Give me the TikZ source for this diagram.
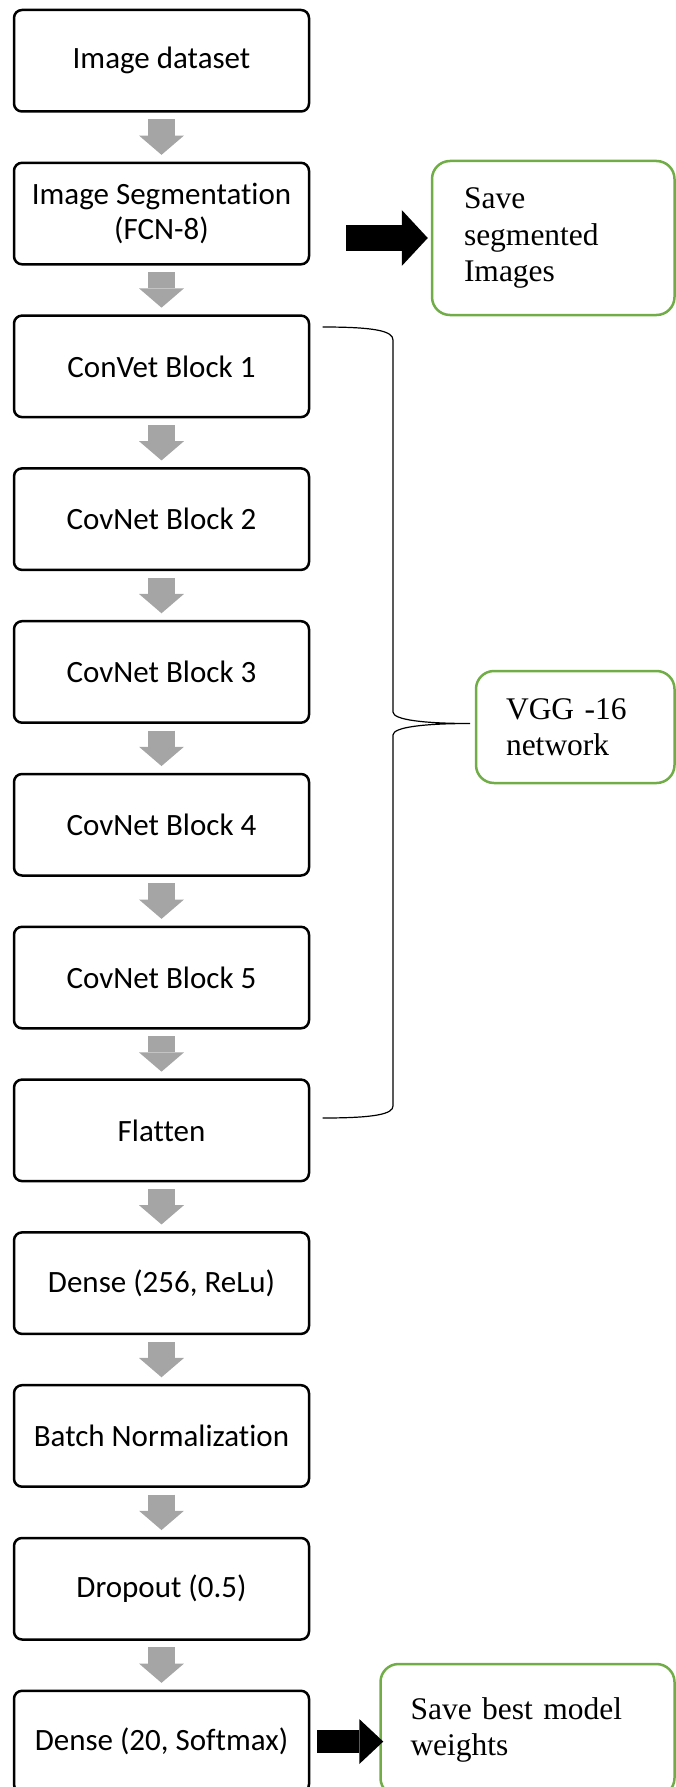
\documentclass[tikz,border=0pt]{standalone}
\usepackage{fontspec}
\setmainfont{Carlito}[Ligatures={CommonOff,ContextualOff,RequiredOff},Contextuals=AlternateOff]
\newfontfamily\notefont{Liberation Serif}
\usepackage{xcolor}
\usepackage{tikz}
\usetikzlibrary{arrows.meta,positioning}
\definecolor{notegreen}{HTML}{70AD47}
\definecolor{flowgray}{HTML}{A5A5A5}

\begin{document}
\begin{tikzpicture}[
    x=1pt, y=-1pt,
    % GLOBAL CFG
    font=\fontsize{31}{35}\selectfont,
    % Styles
    block/.style={% For the main steps
        rectangle,
        rounded corners=8pt,
        draw,
        line width=2.5pt,
        minimum width=295pt,
        minimum height=101.5pt,
        align=center,
        },
    note/.style={% For the green side boxes
        rectangle,
        rounded corners=18pt,
        draw=notegreen,
        line width=2.5pt,
        inner xsep=30pt,
        align=left,
        font=\notefont\fontsize{31.5}{36.5}\selectfont,
        },
    flow/.style={% Grey arrows between the steps
        draw=flowgray,
        line width=26.7pt,
        -{Triangle[length=19.3pt, width=45pt, line width=0pt]},
        shorten <=6.7pt,
        shorten >=6.7pt,
        },
    push/.style={% Big black arrows to the side boxes
        draw=black,
        line width=26.6pt,
        -{Triangle[length=26pt, width=56pt, line width=0pt]},
        },
    bracket/.style={% The curly brace
        line width=1.2pt,
        },
    ]

\useasboundingbox (0,0) rectangle (676,1787);

%Start drawing the thing...
    % The main column:
    \node [block] (data) at (161.5, 60.75) {Image dataset};
    \node [block] (seg) at (161.5, 213.55) {Image Segmentation\\(FCN-8)};
    \node [block] (conv1) at (161.5, 366.35) {ConVet Block 1};
    \node [block] (conv2) at (161.5, 519.15) {CovNet Block 2};
    \node [block] (conv3) at (161.5, 671.95) {CovNet Block 3};
    \node [block] (conv4) at (161.5, 824.75) {CovNet Block 4};
    \node [block] (conv5) at (161.5, 977.55) {CovNet Block 5};
    \node [block] (flat) at (161.5, 1130.35) {Flatten};
    \node [block] (dense1) at (161.5, 1283.15) {Dense (256, ReLu)};
    \node [block] (bn) at (161.5, 1435.95) {Batch Normalization};
    \node [block] (drop) at (161.5, 1588.75) {Dropout (0.5)};
    \node [block] (dense2) at (161.5, 1741.55) {Dense (20, Softmax)};

    \draw [flow] (data) -- (seg);
    \draw [flow] (seg) -- (conv1);
    \draw [flow] (conv1) -- (conv2);
    \draw [flow] (conv2) -- (conv3);
    \draw [flow] (conv3) -- (conv4);
    \draw [flow] (conv4) -- (conv5);
    \draw [flow] (conv5) -- (flat);
    \draw [flow] (flat) -- (dense1);
    \draw [flow] (dense1) -- (bn);
    \draw [flow] (bn) -- (drop);
    \draw [flow] (drop) -- (dense2);

    % The side boxes:
    \node [note, inner xsep=32pt, text width=178.5pt, minimum height=154pt] (saveseg) at (553.25, 238) {Save\\segmented\\Images};
    \node [note, text width=138.5pt, minimum height=112pt] (vgg) at (575.25, 727) {VGG -16\\network};
    \node [note, text width=234pt, minimum height=132pt] (best) at (527.5, 1730) {Save best model\\weights};

    \draw [push, shorten <=36pt, shorten >=3pt] (saveseg.west -| seg.east) -- (saveseg.west);
    \draw [push, line width=22.3pt, -{Triangle[length=24pt, width=45pt, line width=0pt]}, shorten <=7pt, shorten >=-4pt] (dense2.east) -- (dense2.east -| best.west);

    % The brace round the VGG part
    \coordinate (brtop) at (322.6, 327);
    \coordinate (brtip) at (470, 723.5);
    \coordinate (brbot) at (322.6, 1118);
    \draw [bracket] (brtop) .. controls (375,327) and (393,331) .. (393,340) -- (393,712)
        .. controls (393,720) and (425,723.5) .. (brtip)
        .. controls (425,723.5) and (393,727) .. (393,735) -- (393,1106)
        .. controls (393,1114) and (375,1118) .. (brbot);
\end{tikzpicture}
\end{document}
